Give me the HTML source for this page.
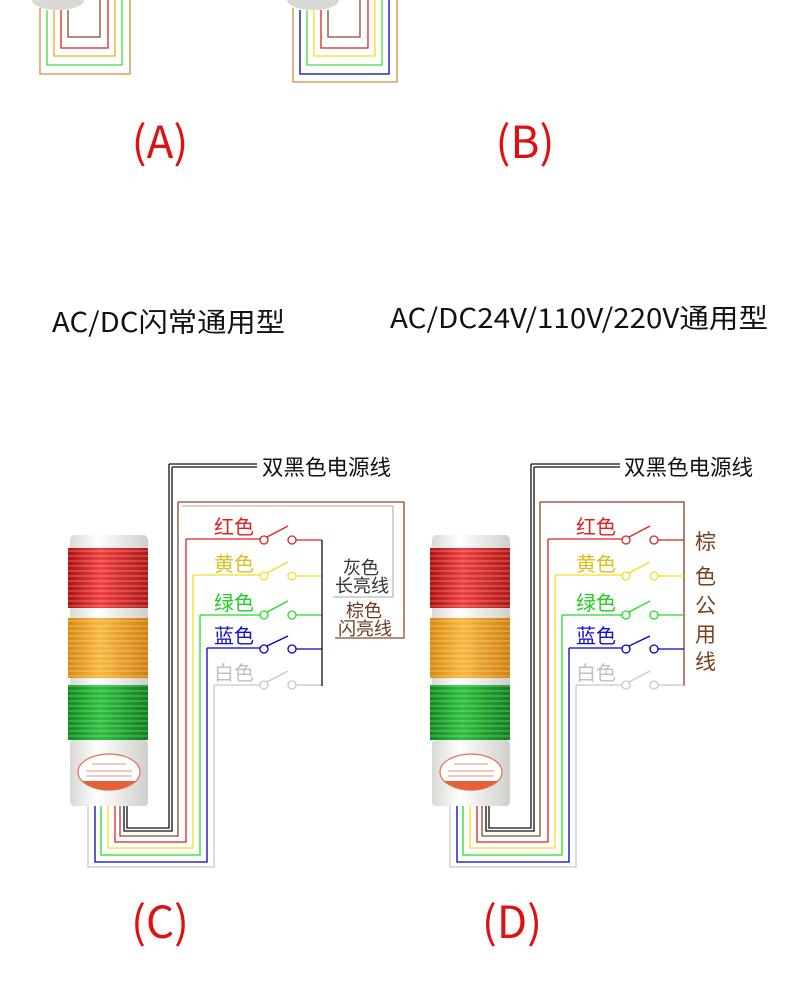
<!DOCTYPE html>
<html><head><meta charset="utf-8"><style>
html,body{margin:0;padding:0;background:#fff;}
svg{display:block}
text{font-family:"Noto Sans CJK SC","Liberation Sans",sans-serif;}
</style></head><body>
<svg width="790" height="999" viewBox="0 0 790 999" xmlns="http://www.w3.org/2000/svg">
<defs>
<linearGradient id="cyl" x1="0" x2="1" y1="0" y2="0">
<stop offset="0" stop-color="#d8d8d4"/><stop offset="0.35" stop-color="#ffffff"/><stop offset="1" stop-color="#cfcfca"/>
</linearGradient>
<linearGradient id="rd" x1="0" x2="1"><stop offset="0" stop-color="#b01010"/><stop offset="0.4" stop-color="#f04040"/><stop offset="1" stop-color="#b01818"/></linearGradient>
<linearGradient id="or" x1="0" x2="1"><stop offset="0" stop-color="#d88a10"/><stop offset="0.4" stop-color="#f8b840"/><stop offset="1" stop-color="#d08010"/></linearGradient>
<linearGradient id="gr" x1="0" x2="1"><stop offset="0" stop-color="#108a20"/><stop offset="0.4" stop-color="#30c040"/><stop offset="1" stop-color="#10801c"/></linearGradient>
<pattern id="rib" width="6" height="5" patternUnits="userSpaceOnUse"><rect width="6" height="2" fill="#ffffff" opacity="0.18"/></pattern>
<g id="tower">
<rect x="70" y="535" width="78" height="15" rx="5" fill="url(#cyl)"/>
<rect x="68" y="548" width="80" height="60" fill="url(#rd)"/><rect x="68" y="548" width="80" height="60" fill="url(#rib)"/>
<rect x="70" y="608" width="78" height="10" fill="url(#cyl)"/>
<rect x="68" y="618" width="80" height="60" fill="url(#or)"/><rect x="68" y="618" width="80" height="60" fill="url(#rib)"/>
<rect x="70" y="678" width="78" height="7" fill="url(#cyl)"/>
<rect x="68" y="685" width="80" height="55" fill="url(#gr)"/><rect x="68" y="685" width="80" height="55" fill="url(#rib)"/>
<rect x="70" y="740" width="78" height="66" rx="4" fill="url(#cyl)"/>
<ellipse cx="109" cy="772" rx="31" ry="18" fill="#fff" stroke="#e07050" stroke-width="1.2"/>
<path d="M82 781 Q109 800 136 781 Z" fill="#e8603a"/>
<line x1="92" y1="764" x2="126" y2="764" stroke="#e09080" stroke-width="1"/>
<line x1="86" y1="771" x2="132" y2="771" stroke="#e09080" stroke-width="1"/>
<line x1="86" y1="776" x2="132" y2="776" stroke="#e09080" stroke-width="1"/>
</g>
<g id="wires" fill="none" stroke-width="1.3">
<polyline points="88,806 88,867 214,867 214,685" stroke="#c8c8c8"/>
<polyline points="95,806 95,862 207,862 207,648" stroke="#0000cc"/>
<polyline points="101,806 101,855 200,855 200,615" stroke="#22dd22"/>
<polyline points="108,806 108,848 193,848 193,575" stroke="#f0e020"/>
<polyline points="115,806 115,842 186,842 186,539" stroke="#dd2222"/>
<polyline points="120,806 120,836 178,836 178,502" stroke="#8b4a2a"/>
<polyline points="124,806 124,831 172,831 172,467" stroke="#111"/>
<polyline points="127,806 127,828 169,828 169,464" stroke="#111"/>
<g stroke="#dd2222"><polyline points="186,539 260,539"/><circle cx="264" cy="540" r="4"/><line x1="267" y1="537" x2="288" y2="526"/><circle cx="292" cy="540" r="4"/></g>
<g stroke="#f0e020"><polyline points="193,575 260,575"/><circle cx="264" cy="576" r="4"/><line x1="267" y1="573" x2="288" y2="562"/><circle cx="292" cy="576" r="4"/></g>
<g stroke="#22dd22"><polyline points="200,615 260,615"/><circle cx="264" cy="615" r="4"/><line x1="267" y1="612" x2="288" y2="601"/><circle cx="292" cy="615" r="4"/></g>
<g stroke="#0000cc"><polyline points="207,648 260,648"/><circle cx="264" cy="649" r="4"/><line x1="267" y1="646" x2="288" y2="636"/><circle cx="292" cy="649" r="4"/></g>
<g stroke="#c8c8c8"><polyline points="214,685 260,685"/><circle cx="264" cy="685" r="4"/><line x1="267" y1="682" x2="288" y2="671"/><circle cx="292" cy="685" r="4"/></g>
</g>
<g id="labels" font-size="20">
<text x="214" y="534" fill="#e02020">红色</text>
<text x="214" y="571" fill="#d8c020">黄色</text>
<text x="214" y="610" fill="#22cc22">绿色</text>
<text x="214" y="643" fill="#1010cc">蓝色</text>
<text x="214" y="680" fill="#c0c0c0">白色</text>
</g>
</defs>

<ellipse cx="58" cy="0" rx="26" ry="10" fill="#d8d8d4"/>
<g fill="none" stroke-width="1.3">
<polyline points="68,10 68,37 100,37 100,0" stroke="#8b4a2a"/>
<polyline points="61,10 61,48 108,48 108,0" stroke="#dd2222"/>
<polyline points="54,10 54,56 115,56 115,0" stroke="#e8b020"/>
<polyline points="47,10 47,65 122,65 122,0" stroke="#44dd44"/>
<polyline points="40,8 40,74 130,74 130,0" stroke="#d09040"/>
</g>
<ellipse cx="313" cy="0" rx="26" ry="10" fill="#d8d8d4"/>
<g fill="none" stroke-width="1.3">
<polyline points="328,10 328,37 360,37 360,0" stroke="#8b4a2a"/>
<polyline points="321,10 321,48 368,48 368,0" stroke="#dd2222"/>
<polyline points="314,10 314,56 375,56 375,0" stroke="#f0e020"/>
<polyline points="307,10 307,65 382,65 382,0" stroke="#44dd44"/>
<polyline points="300,10 300,74 389,74 389,0" stroke="#0000cc"/>
<polyline points="293,8 293,82 397,82 397,0" stroke="#d09040"/>
</g>
<text x="160" y="158" font-size="44" fill="#e01010" text-anchor="middle">(A)</text>
<text x="525" y="158" font-size="44" fill="#e01010" text-anchor="middle">(B)</text>

<text x="52" y="332" font-size="27" fill="#111" textLength="233" lengthAdjust="spacingAndGlyphs">AC/DC闪常通用型</text>
<text x="390" y="328" font-size="27" fill="#111" textLength="378" lengthAdjust="spacingAndGlyphs">AC/DC24V/110V/220V通用型</text>

<use href="#tower"/>
<use href="#wires"/>
<use href="#labels"/>
<g fill="none" stroke-width="1.3">
<polyline points="169,464 257,464" stroke="#111"/>
<polyline points="172,467 257,467" stroke="#111"/>
<polyline points="178,502 404,502 404,638 335,638" stroke="#8b4a2a"/>
<polyline points="182,506 393,506 393,597 333,597" stroke="#bbb"/>
<line x1="296" y1="540" x2="322" y2="540" stroke="#dd2222"/>
<line x1="296" y1="576" x2="322" y2="576" stroke="#f0e020"/>
<line x1="296" y1="615" x2="322" y2="615" stroke="#22dd22"/>
<line x1="296" y1="649" x2="322" y2="649" stroke="#0000cc"/>
<line x1="296" y1="685" x2="322" y2="685" stroke="#c8c8c8"/>
<line x1="322" y1="540" x2="322" y2="686" stroke="#111"/>
</g>
<text x="262" y="475" font-size="21.5" fill="#111">双黑色电源线</text>
<text x="343" y="574" font-size="18" fill="#333">灰色</text>
<text x="335" y="592" font-size="18" fill="#333">长亮线</text>
<text x="346" y="617" font-size="18" fill="#6b3a20">棕色</text>
<text x="338" y="635" font-size="18" fill="#6b3a20">闪亮线</text>
<text x="160" y="938" font-size="44" fill="#e01010" text-anchor="middle">(C)</text>

<g transform="translate(362,0)">
<use href="#tower"/>
<use href="#wires"/>
<use href="#labels"/>
</g>
<g fill="none" stroke-width="1.3">
<polyline points="531,464 620,464" stroke="#111"/>
<polyline points="534,467 620,467" stroke="#111"/>
<polyline points="540,502 684,502 684,686" stroke="#8b3a2a"/>
<line x1="658" y1="540" x2="684" y2="540" stroke="#dd2222"/>
<line x1="658" y1="576" x2="684" y2="576" stroke="#f0e020"/>
<line x1="658" y1="615" x2="684" y2="615" stroke="#22dd22"/>
<line x1="658" y1="649" x2="684" y2="649" stroke="#0000cc"/>
<line x1="658" y1="685" x2="684" y2="685" stroke="#c8c8c8"/>
</g>
<text x="624" y="475" font-size="21.5" fill="#111">双黑色电源线</text>
<g font-size="21" fill="#7a4020">
<text x="695" y="549">棕</text>
<text x="695" y="584">色</text>
<text x="695" y="613">公</text>
<text x="695" y="642">用</text>
<text x="695" y="669">线</text>
</g>
<text x="512" y="938" font-size="44" fill="#e01010" text-anchor="middle">(D)</text>
</svg>
</body></html>
